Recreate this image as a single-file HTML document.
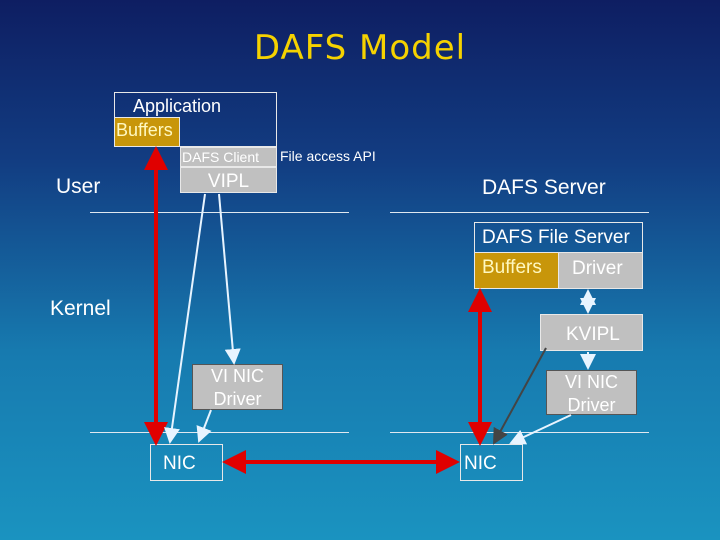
<!DOCTYPE html><html><head><style>
body{margin:0}
#c{position:relative;width:720px;height:540px;overflow:hidden;background:linear-gradient(180deg,#0e1e62 0%,#123d82 30%,#177aaf 65%,#1a93c0 100%);font-family:"Liberation Sans",sans-serif;color:#fff}
.b{position:absolute;box-sizing:border-box}
.g{background:#c0c0c0}
.t{position:absolute;white-space:nowrap}
</style></head><body><div id="c">
<div class="t" style="left:0;width:720px;top:28px;text-align:center;font-size:34px;color:#f5d200;font-family:'DejaVu Sans',sans-serif;letter-spacing:1px">DAFS Model</div>
<div class="b" style="left:114px;top:92px;width:163px;height:55px;border:1px solid #e8e8e8"></div>
<div class="t" style="left:133px;top:96px;font-size:18px">Application</div>
<div class="b" style="left:114px;top:117px;width:66px;height:30px;background:#c8960a;border:1px solid #e8e8e8;font-size:18px;color:#fff8c0;padding:2px 0 0 1px">Buffers</div>
<div class="b g" style="left:180px;top:147px;width:97px;height:20px;border:1px solid #e8e8e8;font-size:14px;color:#fff;padding:1px 0 0 1px">DAFS Client</div>
<div class="t" style="left:280px;top:148px;font-size:14px">File access API</div>
<div class="b g" style="left:180px;top:167px;width:97px;height:26px;border:1px solid #e8e8e8;font-size:19px;text-align:center;padding-top:3px">VIPL</div>
<div class="t" style="left:56px;top:175px;font-size:21px">User</div>
<div class="t" style="left:482px;top:176px;font-size:21px">DAFS Server</div>
<div class="t" style="left:50px;top:297px;font-size:21px">Kernel</div>
<div class="b" style="left:90px;top:212px;width:259px;height:1px;background:#e0e8f0"></div>
<div class="b" style="left:390px;top:212px;width:259px;height:1px;background:#e0e8f0"></div>
<div class="b" style="left:90px;top:432px;width:259px;height:1px;background:#e0e8f0"></div>
<div class="b" style="left:390px;top:432px;width:259px;height:1px;background:#e0e8f0"></div>
<div class="b" style="left:474px;top:222px;width:169px;height:31px;border:1px solid #e8e8e8;font-size:19px;padding:4px 0 0 7px">DAFS File Server</div>
<div class="b" style="left:474px;top:252px;width:85px;height:37px;background:#c8960a;border:1px solid #e8e8e8;font-size:19px;color:#fff8c0;padding:4px 0 0 7px">Buffers</div>
<div class="b g" style="left:558px;top:252px;width:85px;height:37px;border:1px solid #e8e8e8;font-size:19px;padding:5px 0 0 13px">Driver</div>
<div class="b g" style="left:540px;top:314px;width:103px;height:37px;border:1px solid #e8e8e8;font-size:19px;padding:9px 0 0 25px">KVIPL</div>
<div class="b g" style="left:546px;top:370px;width:91px;height:45px;border:1px solid #555;font-size:18px;line-height:23px;text-align:center;padding-top:0">VI NIC<br>Driver</div>
<div class="b g" style="left:192px;top:364px;width:91px;height:46px;border:1px solid #555;font-size:18px;line-height:23px;text-align:center;padding-top:0">VI NIC<br>Driver</div>
<div class="b" style="left:150px;top:444px;width:73px;height:37px;border:1px solid #e8e8e8;font-size:19px;padding:8px 0 0 12px">NIC</div>
<div class="b" style="left:460px;top:444px;width:63px;height:37px;border:1px solid #e8e8e8;font-size:19px;padding:8px 0 0 3px">NIC</div>
<svg width="720" height="540" style="position:absolute;left:0;top:0">
<defs>
<marker id="r" markerWidth="6" markerHeight="6" refX="5" refY="3" orient="auto-start-reverse" markerUnits="strokeWidth"><path d="M0,0L6,3L0,6z" fill="#e00000"/></marker>
<marker id="w" markerWidth="8" markerHeight="8" refX="7" refY="4" orient="auto-start-reverse" markerUnits="strokeWidth"><path d="M0,0L8,4L0,8z" fill="#e8f4ff"/></marker>
<marker id="d" markerWidth="8" markerHeight="8" refX="7" refY="4" orient="auto-start-reverse" markerUnits="strokeWidth"><path d="M0,0L8,4L0,8z" fill="#444"/></marker>
</defs>
<g stroke="#e00000" stroke-width="4" fill="none">
<line x1="156" y1="150" x2="156" y2="442" marker-start="url(#r)" marker-end="url(#r)"/>
<line x1="480" y1="292" x2="480" y2="442" marker-start="url(#r)" marker-end="url(#r)"/>
<line x1="226" y1="462" x2="456" y2="462" marker-start="url(#r)" marker-end="url(#r)"/>
</g>
<g stroke="#e8f4ff" stroke-width="2" fill="none">
<line x1="205" y1="194" x2="170" y2="442" marker-end="url(#w)"/>
<line x1="219" y1="194" x2="234" y2="363" marker-end="url(#w)"/>
<line x1="211" y1="410" x2="199" y2="441" marker-end="url(#w)"/>
<line x1="588" y1="291" x2="588" y2="312" marker-start="url(#w)" marker-end="url(#w)"/>
<line x1="588" y1="352" x2="588" y2="368" marker-end="url(#w)"/>
<line x1="571" y1="415" x2="511" y2="443" marker-end="url(#w)"/>
</g>
<line x1="546" y1="348" x2="494" y2="443" stroke="#444" stroke-width="2" marker-end="url(#d)"/>
</svg>
</div></body></html>
